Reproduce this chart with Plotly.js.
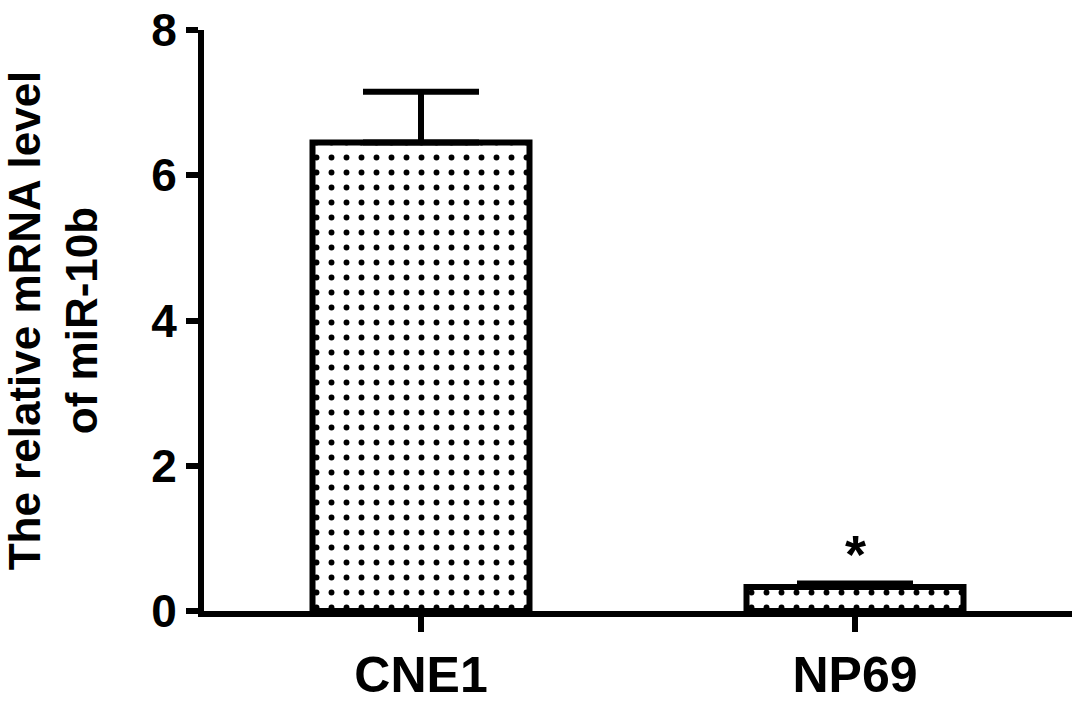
<!DOCTYPE html>
<html>
<head>
<meta charset="utf-8">
<script src="https://cdn.plot.ly/plotly-3.0.1.min.js"></script>
<style>html,body{margin:0;padding:0;background:#fff;}#chart{width:1087px;height:717px;}</style>
</head>
<body>
<div id="chart"></div>
<script>
const categories = ["CNE1", "NP69"];
const meanValues = [6.45, 0.33];
const errorUpper = [0.70, 0.05];
const yTickValues = [0, 2, 4, 6, 8];
const yTickLabels = ["0", "2", "4", "6", "8"];
const significanceMarks = ["", "*"];
const yTitleText = "The relative mRNA level<br>of miR-10b";

const FONT = "Liberation Sans, Arial, sans-serif";

const trace = {
  type: "bar",
  x: categories,
  y: meanValues,
  width: 0.5,
  marker: {
    color: "#ffffff",
    line: {color: "#000000", width: 6},
    pattern: {shape: ".", fgcolor: "#000000", bgcolor: "#ffffff", size: 15, solidity: 0.12, fillmode: "replace"}
  },
  error_y: {
    type: "data",
    symmetric: false,
    array: errorUpper,
    arrayminus: [0, 0],
    color: "#000000",
    thickness: 6,
    width: 58
  },
  hoverinfo: "skip"
};

const annotations = categories.map((c, i) => ({
  x: c,
  y: meanValues[i] + errorUpper[i],
  xref: "x",
  yref: "y",
  text: significanceMarks[i],
  showarrow: false,
  yanchor: "bottom",
  yshift: -3,
  font: {family: FONT, size: 54, color: "#000", weight: "bold"}
})).filter(a => a.text !== "");

const layout = {
  width: 1087,
  height: 717,
  margin: {l: 204, r: 15, t: 30, b: 106},
  paper_bgcolor: "#ffffff",
  plot_bgcolor: "#ffffff",
  showlegend: false,
  font: {family: FONT, color: "#000"},
  xaxis: {
    type: "category",
    range: [-0.5, 1.5],
    showline: true,
    linecolor: "#000",
    linewidth: 6,
    ticks: "outside",
    ticklen: 15,
    tickwidth: 6,
    tickcolor: "#000",
    showgrid: false,
    zeroline: false,
    tickfont: {family: FONT, size: 50, color: "#000", weight: "bold"},
    automargin: false
  },
  yaxis: {
    range: [0, 8],
    tickvals: yTickValues,
    ticktext: yTickLabels,
    showline: true,
    linecolor: "#000",
    linewidth: 6,
    ticks: "outside",
    ticklen: 12,
    tickwidth: 6,
    tickcolor: "#000",
    showgrid: false,
    zeroline: false,
    tickfont: {family: FONT, size: 46, color: "#000", weight: "bold"},
    title: {text: yTitleText, font: {family: FONT, size: 44, color: "#000", weight: "bold"}, standoff: 48},
    automargin: false
  },
  annotations: annotations
};

Plotly.newPlot("chart", [trace], layout, {displayModeBar: false, staticPlot: true});
</script>
</body>
</html>
